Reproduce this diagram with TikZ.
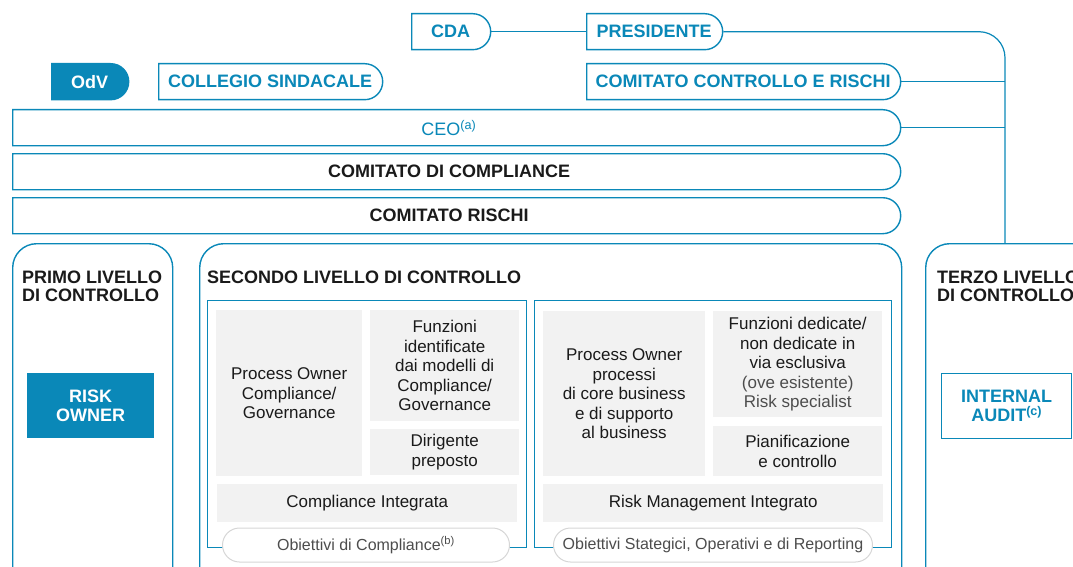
\documentclass[tikz,border=0pt]{standalone}
\usepackage{fontspec}
\setmainfont{Liberation Sans}
\usetikzlibrary{shapes.misc,positioning}
\definecolor{mainc}{HTML}{0A88B8}
\definecolor{greyc}{HTML}{F2F2F2}
\definecolor{inkc}{HTML}{1A1A1A}
\definecolor{pillc}{HTML}{D6D6D6}
\definecolor{softc}{HTML}{4D4D4D}
\newcommand\toplbl{\fontsize{18}{20}\selectfont\bfseries}
\newcommand\boxlbl{\fontsize{17}{19.5}\selectfont}
\newcommand\objlbl{\fontsize{16}{18}\selectfont}

\begin{document}
\begin{tikzpicture}[x=1pt,y=-1pt,
    pillr/.style={rounded rectangle,rounded rectangle left arc=none,draw=mainc,line width=1.4pt,
      fill=white,inner sep=0pt,minimum height=36pt,anchor=north west,font=\toplbl,text=mainc},
    barr/.style={pillr,text=inkc},
    bigbox/.style={draw=mainc,line width=1.4pt,rounded corners=24pt,anchor=north west,inner sep=0pt},
    innerbox/.style={draw=mainc,line width=1.1pt,anchor=north west,inner sep=0pt},
    greybox/.style={fill=greyc,anchor=north west,align=center,font=\boxlbl,inner sep=0pt,text=inkc},
    objpill/.style={rounded rectangle,draw=pillc,line width=1pt,fill=white,inner sep=0pt,
      minimum height=34pt,anchor=west,font=\objlbl,text=softc},
    leveltag/.style={anchor=north west,align=left,inner sep=0pt,font=\toplbl,text=inkc},
    conn/.style={draw=mainc,line width=1.2pt}]
  \useasboundingbox (0,0) rectangle (1073,567);
  \clip (0,0) rectangle (1073,567);
  % governance row
  \node[pillr,minimum width=79pt] (cda) at (411,13) {CDA};
  \node[pillr,minimum width=136pt] (pres) at (586,13) {PRESIDENTE};
  \node[pillr,minimum width=77pt,fill=mainc,text=white] (odv) at (51,63) {OdV};
  \node[pillr,minimum width=224pt] (collegio) at (158,63) {COLLEGIO SINDACALE};
  \node[pillr,minimum width=314pt] (ccr) at (586,63) {COMITATO CONTROLLO E RISCHI};
  % management bars
  \node[pillr,minimum width=888pt,font=\fontsize{18}{20}\selectfont] (ceo) at (12,109) {CEO\textsuperscript{(a)}\hspace*{14pt}};
  \node[barr,minimum width=888pt] (ccomp) at (12,153) {COMITATO DI COMPLIANCE\hspace*{14pt}};
  \node[barr,minimum width=888pt] (crischi) at (12,197) {COMITATO RISCHI\hspace*{14pt}};
  % levels
  \node[bigbox,minimum width=160pt,minimum height=400pt] (primo) at (12,243) {};
  \node[bigbox,minimum width=702pt,minimum height=400pt] (secondo) at (199,243) {};
  \node[bigbox,minimum width=220pt,minimum height=400pt] (terzo) at (925,243) {};
  \node[leveltag] (primotag) at (22,271) {PRIMO LIVELLO\\[-2pt]DI CONTROLLO};
  \node[leveltag] (secondotag) at (207,271) {SECONDO LIVELLO DI CONTROLLO};
  \node[leveltag] (terzotag) at (937,271) {TERZO LIVELLO\\[-2pt]DI CONTROLLO};
  \node[fill=mainc,text=white,font=\toplbl,align=center,inner sep=0pt,anchor=north west,
    minimum width=127pt,minimum height=65pt] (riskowner) at (27,373) {RISK\\[-1pt]OWNER};
  \node[draw=mainc,line width=1.4pt,text=mainc,font=\toplbl,align=center,inner sep=0pt,anchor=north west,
    minimum width=130pt,minimum height=65pt] (audit) at (941,373) {INTERNAL\\[-1pt]AUDIT\textsuperscript{(c)}};
  % compliance block
  \node[innerbox,minimum width=319pt,minimum height=247pt] (compbox) at (207,300) {};
  \node[greybox,minimum width=146pt,minimum height=166pt] (pocomp) at (216,310) {Process Owner\\Compliance/\\Governance};
  \node[greybox,minimum width=149pt,minimum height=111pt] (funzid) at (370,310) {Funzioni\\identificate\\dai modelli di\\Compliance/\\Governance};
  \node[greybox,minimum width=149pt,minimum height=46pt] (dirig) at (370,429) {Dirigente\\preposto};
  \node[greybox,minimum width=300pt,minimum height=38pt] (compint) at (217,484) {Compliance Integrata};
  \node[objpill,minimum width=287pt] (obcomp) at (222,545) {Obiettivi di Compliance\textsuperscript{(b)}};
  % risk block
  \node[innerbox,minimum width=357pt,minimum height=247pt] (riskbox) at (534,300) {};
  \node[greybox,minimum width=162pt,minimum height=165pt] (porisk) at (543,311) {Process Owner\\processi\\di core business\\e di supporto\\al business};
  \node[greybox,minimum width=169pt,minimum height=106pt] (funzded) at (713,311) {Funzioni dedicate/\\non dedicate in\\via esclusiva\\\textcolor{softc}{(ove esistente)}\\\textcolor{softc}{Risk specialist}};
  \node[greybox,minimum width=169pt,minimum height=50pt] (pianif) at (713,426) {Pianificazione\\e controllo};
  \node[greybox,minimum width=340pt,minimum height=38pt] (rmi) at (543,484) {Risk Management Integrato};
  \node[objpill,minimum width=319pt] (obrisk) at (553,545) {Obiettivi Stategici, Operativi e di Reporting};
  % reporting lines
  \coordinate (trunk) at (1005,0);
  \draw[conn] (cda.east) -- (pres.west);
  \draw[conn,rounded corners=26pt] (pres.east) -| (terzo.north -| trunk);
  \draw[conn] (ccr.east) -- (ccr.east -| trunk);
  \draw[conn] (ceo.east) -- (ceo.east -| trunk);
\end{tikzpicture}
\end{document}
